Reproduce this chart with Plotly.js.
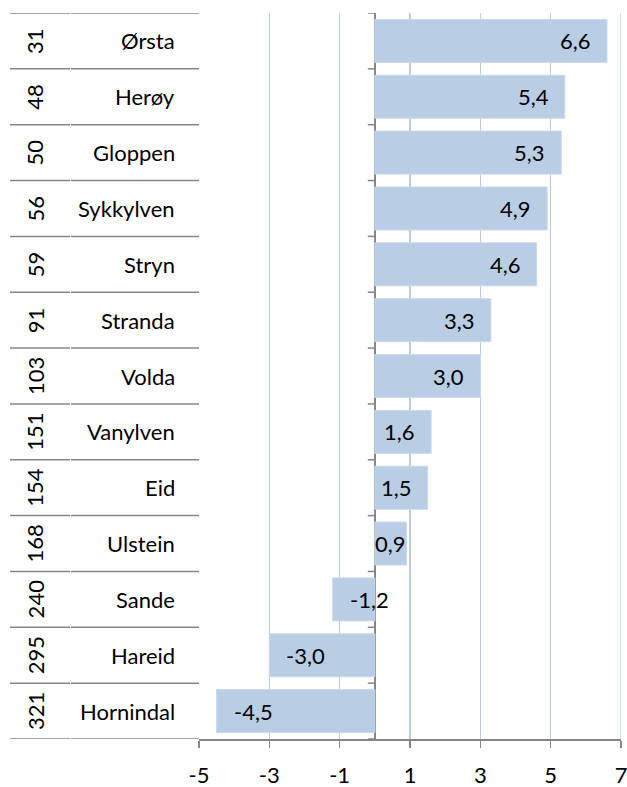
<!DOCTYPE html>
<html>
<head>
<meta charset="utf-8">
<script src="https://cdn.plot.ly/plotly-3.0.1.min.js"></script>
<style>html,body{margin:0;padding:0;background:#fff;}#chart{width:627px;height:787px;}</style>
</head>
<body>
<div id="chart"></div>
<script>
const names = ['Ørsta','Herøy','Gloppen','Sykkylven','Stryn','Stranda','Volda','Vanylven','Eid','Ulstein','Sande','Hareid','Hornindal'];
const ranks = [31,48,50,56,59,91,103,151,154,168,240,295,321];
const values = [6.6,5.4,5.3,4.9,4.6,3.3,3.0,1.6,1.5,0.9,-1.2,-3.0,-4.5];
const xTickVals = [-5,-3,-1,1,3,5,7];
const xTickText = ['-5','-3','-1','1','3','5','7'];

const FONT = 'Lato, "Open Sans", sans-serif';
const FS = 22;
const GREY = '#868686';
const plotW = 627 - 199 - 6;

const fmt = v => v.toFixed(1).replace('.', ',');

const trace = {
  type: 'bar', orientation: 'h',
  y: names, x: values,
  marker: {color: '#B9CDE5', line: {color: '#C9D8EC', width: 1}},
  hoverinfo: 'skip'
};

const shapes = [];
const annotations = [];
for (let i = 0; i <= names.length; i++) {
  const y = i - 0.5;
  shapes.push({type:'line', xref:'paper', yref:'y', x0:(10-199)/plotW, x1:(70-199)/plotW, y0:y, y1:y, line:{color:GREY, width:1.5}});
  shapes.push({type:'line', xref:'paper', yref:'y', x0:(71-199)/plotW, x1:0, y0:y, y1:y, line:{color:GREY, width:1.5}});
  shapes.push({type:'line', xref:'x', yref:'y', xsizemode:'pixel', xanchor:0, x0:-7, x1:0, y0:y, y1:y, line:{color:GREY, width:1.5}});
}
names.forEach((n, i) => {
  annotations.push({xref:'paper', yref:'y', x:0, y:n, xshift:-22, xanchor:'right', yanchor:'middle', text:n, showarrow:false, font:{family:FONT, size:FS, color:'#000'}});
  annotations.push({xref:'paper', yref:'y', x:0, y:n, xshift:-164, xanchor:'center', yanchor:'middle', text:String(ranks[i]), textangle:-90, showarrow:false, font:{family:FONT, size:FS, color:'#000'}});
  const v = values[i];
  const small = Math.abs(v) < 1.2;
  annotations.push({
    xref:'x', yref:'y', y:n,
    x: small ? v/2 : v,
    xanchor: small ? 'center' : (v > 0 ? 'right' : 'left'),
    xshift: small ? 0 : (v > 0 ? -14 : 15),
    text: fmt(v), showarrow:false, font:{family:FONT, size:FS, color:'#000'}
  });
});

const layout = {
  width: 627, height: 787,
  margin: {l:199, r:6, t:13, b:48, pad:0},
  paper_bgcolor:'#fff', plot_bgcolor:'#fff',
  showlegend:false,
  bargap: 0.23,
  font: {family:FONT, size:FS, color:'#000'},
  xaxis: {
    range:[-5,7], tickvals:xTickVals, ticktext:xTickText,
    showgrid:true, gridcolor:'#B9CDE5', gridwidth:1.3,
    zeroline:true, zerolinecolor:GREY, zerolinewidth:1.5,
    showline:true, linecolor:GREY, linewidth:1.5, mirror:false,
    ticks:'outside', ticklen:7, tickcolor:GREY, tickwidth:1.5,
    ticklabelstandoff: 9,
    ticklabeloverflow: 'allow',
    tickfont:{family:FONT, size:FS, color:'#000'},
    fixedrange:true
  },
  yaxis: {
    type:'category', categoryarray:names, range:[names.length-0.5, -0.5],
    showticklabels:false, showgrid:false, zeroline:false, showline:false, ticks:'',
    fixedrange:true
  },
  shapes: shapes.concat([
    {type:'line', xref:'x', yref:'paper', x0:7, x1:7, y0:0, y1:1, line:{color:'#B9CDE5', width:1.3}, layer:'below'}
  ]),
  annotations: annotations
};

Plotly.newPlot('chart', [trace], layout, {staticPlot:true, displayModeBar:false});
</script>
</body>
</html>
